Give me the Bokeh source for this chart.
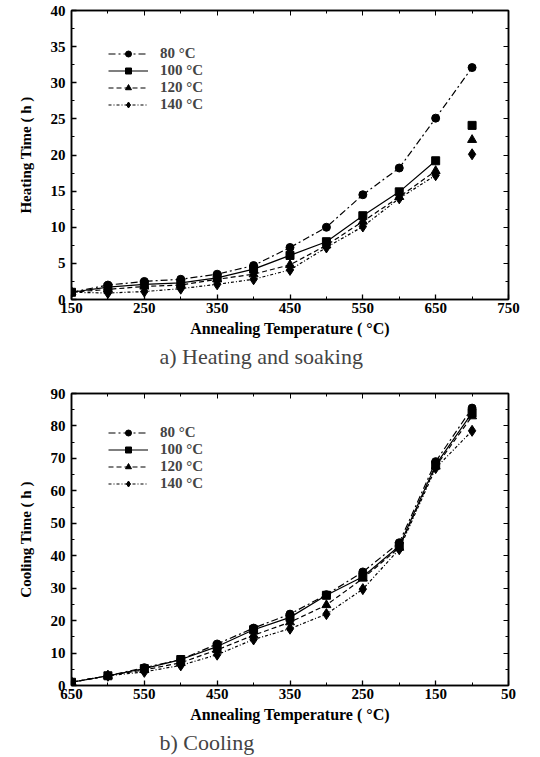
from bokeh.plotting import figure
from bokeh.models import Range1d, FixedTicker, LinearAxis, Legend, LegendItem, Title
from bokeh.layouts import column
from bokeh.embed import file_html
from bokeh.resources import INLINE

# ---------------- data ----------------
series_labels = ["80 °C", "100 °C", "120 °C", "140 °C"]

heat_temps = [150, 200, 250, 300, 350, 400, 450, 500, 550, 600, 650, 700]
heat_80 = [1.0, 2.0, 2.5, 2.8, 3.5, 4.7, 7.2, 10.0, 14.5, 18.2, 25.1, 32.1]
heat_100 = [1.0, 1.7, 2.1, 2.3, 3.0, 4.2, 6.1, 8.0, 11.6, 14.9, 19.2, 24.1]
heat_120 = [1.0, 1.4, 1.8, 2.0, 2.8, 3.5, 4.8, 7.5, 10.8, 14.2, 17.8, 22.1]
heat_140 = [1.0, 0.9, 1.1, 1.5, 2.1, 2.8, 4.1, 7.2, 10.1, 14.0, 17.2, 20.1]
heat_xticks = [150, 250, 350, 450, 550, 650, 750]
heat_xminor = [200, 300, 400, 500, 600, 700]
heat_yticks = [0, 5, 10, 15, 20, 25, 30, 35, 40]
heat_yminor = [2.5, 7.5, 12.5, 17.5, 22.5, 27.5, 32.5, 37.5]

cool_temps = [650, 600, 550, 500, 450, 400, 350, 300, 250, 200, 150, 100]
cool_80 = [1.0, 3.0, 5.5, 8.0, 12.8, 17.7, 22.0, 28.0, 35.0, 44.0, 69.0, 85.5]
cool_100 = [1.0, 3.0, 5.2, 8.0, 12.0, 17.2, 21.0, 27.8, 33.5, 43.0, 68.0, 84.0]
cool_120 = [1.0, 3.0, 4.8, 7.0, 11.0, 15.5, 19.5, 24.8, 33.0, 42.5, 67.5, 83.0]
cool_140 = [1.0, 3.0, 4.2, 6.2, 9.5, 14.2, 17.5, 22.0, 29.7, 42.0, 67.0, 78.5]
cool_xticks = [650, 550, 450, 350, 250, 150, 50]
cool_xminor = [600, 500, 400, 300, 200, 100]
cool_yticks = [0, 10, 20, 30, 40, 50, 60, 70, 80, 90]
cool_yminor = [5, 15, 25, 35, 45, 55, 65, 75, 85]

# ---------------- style ----------------
FONT = "Liberation Serif"
markers = ["circle", "square", "triangle", "diamond"]
msizes = [8, 8, 9, 11]
dashes = ["7 3 2 3", "solid", "5 3", "3 2 1 2"]


def make_chart(xs, series, line_ends, xr, yr, xt, xm, yt, ym, ylabel, caption,
               height, border, legend_loc):
    left, right, top, bottom = border
    p = figure(width=540, height=height, output_backend="svg", toolbar_location=None,
               x_range=xr, y_range=yr, min_border_left=left, min_border_right=right,
               min_border_top=top, min_border_bottom=bottom)
    p.xgrid.visible = False
    p.ygrid.visible = False
    p.outline_line_color = "black"
    p.outline_line_width = 1.5
    p.background_fill_color = "white"
    p.border_fill_color = "white"

    xticker = FixedTicker(ticks=xt, minor_ticks=xm)
    yticker = FixedTicker(ticks=yt, minor_ticks=ym)
    for ax, tk in ((p.xaxis[0], xticker), (p.yaxis[0], yticker)):
        ax.ticker = tk
        ax.major_tick_in = 5
        ax.major_tick_out = 0
        ax.minor_tick_in = 3
        ax.minor_tick_out = 0
        ax.axis_line_width = 1.5
        ax.major_tick_line_width = 1.3
        ax.major_label_text_font = FONT
        ax.major_label_text_font_style = "bold"
        ax.major_label_text_font_size = "15px"
        ax.major_label_text_color = "black"
        ax.axis_label_text_font = FONT
        ax.axis_label_text_font_style = "bold"
        ax.axis_label_text_color = "black"
    p.xaxis[0].axis_label = "Annealing Temperature ( °C)"
    p.xaxis[0].axis_label_text_font_size = "16px"
    p.xaxis[0].major_label_standoff = 3
    p.xaxis[0].axis_label_standoff = 4
    p.yaxis[0].axis_label = ylabel
    p.yaxis[0].axis_label_text_font_size = "15px"
    p.yaxis[0].major_label_standoff = 6
    p.yaxis[0].axis_label_standoff = 14

    for side, tk in (("above", FixedTicker(ticks=xt, minor_ticks=xm)),
                     ("right", FixedTicker(ticks=yt, minor_ticks=ym))):
        a = LinearAxis(ticker=tk, major_label_text_font_size="1px",
                       major_label_text_color=None,
                       major_tick_in=5, major_tick_out=0, minor_tick_in=3, minor_tick_out=0,
                       axis_line_width=1.5, major_label_standoff=0)
        p.add_layout(a, side)

    items = []
    for i, ys in enumerate(series):
        n = line_ends[i]
        ln = p.line(xs[:n], ys[:n], line_color="black", line_width=1.2, line_dash=dashes[i])
        sc = p.scatter(xs, ys, marker=markers[i], size=msizes[i], fill_color="black",
                       line_color="black")
        items.append(LegendItem(label=series_labels[i], renderers=[ln, sc]))
    leg = Legend(items=items, location=legend_loc, border_line_color=None,
                 background_fill_alpha=0, padding=0, spacing=0, margin=0,
                 label_height=15, glyph_height=15, glyph_width=40,
                 label_text_font=FONT, label_text_font_style="bold",
                 label_text_font_size="15px", label_standoff=12)
    p.add_layout(leg)

    cap = Title(text=caption, align="left", offset=88, text_font=FONT,
                text_font_style="normal", text_font_size="22px", standoff=4)
    p.add_layout(cap, "below")
    return p


p1 = make_chart(heat_temps, [heat_80, heat_100, heat_120, heat_140], [12, 11, 11, 11],
                Range1d(150, 750), Range1d(0, 40), heat_xticks, heat_xminor,
                heat_yticks, heat_yminor, "Heating Time ( h )", "a) Heating and soaking",
                378, (70, 24, 10, 79), (37, 186))
p2 = make_chart(cool_temps, [cool_80, cool_100, cool_120, cool_140], [12, 12, 12, 12],
                Range1d(650, 50), Range1d(0, 90), cool_xticks, cool_xminor,
                cool_yticks, cool_yminor, "Cooling Time ( h )", "b) Cooling",
                379, (71, 32, 15, 72), (37, 193))

layout = column(p1, p2, spacing=0)
open("out.html", "w").write(file_html(layout, INLINE))
